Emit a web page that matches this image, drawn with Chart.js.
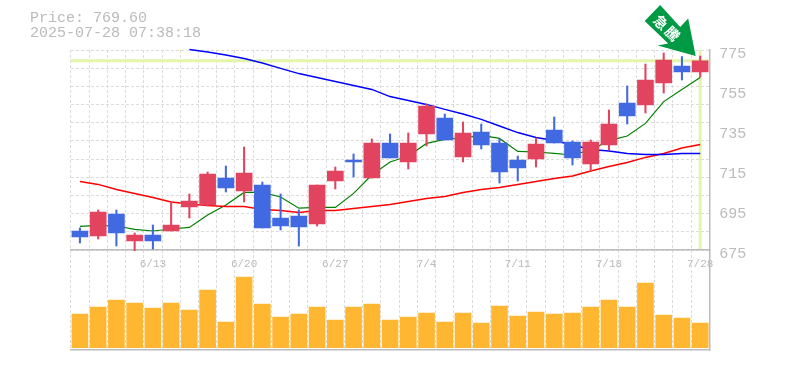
<!DOCTYPE html>
<html>
<head>
<meta charset="utf-8">
<style>
html, body { margin: 0; padding: 0; background: #fff; overflow: hidden; }
#wrap { position: relative; width: 785px; height: 370px; }
canvas { position: absolute; left: 0; }
#priceChart { top: 0; z-index: 2; }
#volChart { top: 250px; z-index: 1; }
#head { position: absolute; left: 30px; top: 11px; z-index: 3; color: #bbb; font: 15px/15px "Liberation Mono", monospace; white-space: pre; }
</style>
</head>
<body>
<div id="wrap">
  <div id="head"></div>
  <canvas id="volChart" width="785" height="102"></canvas>
  <canvas id="priceChart" width="785" height="270"></canvas>
</div>
<script src="https://cdn.jsdelivr.net/npm/chart.js@4"></script>
<script>
var lastPrice = 769.60;
var stamp = "2025-07-28 07:38:18";
var signalText = ["急", "騰"];

var dates = ["6/9","6/10","6/11","6/12","6/13","6/16","6/17","6/18","6/19","6/20","6/23","6/24","6/25","6/26","6/27","6/30","7/1","7/2","7/3","7/4","7/7","7/8","7/9","7/10","7/11","7/14","7/15","7/16","7/17","7/18","7/22","7/23","7/24","7/25","7/28"];
var shownDates = ["6/13","6/20","6/27","7/4","7/11","7/18","7/28"];
var priceTicks = [675, 695, 715, 735, 755, 775];

var opens  = [684.5,682,693,679.5,682.5,684.5,696.5,697.5,711,704.5,707.5,691,692,688,709.5,720,711,728.5,719,733,741,721.5,734,728.5,720,720.5,735,729,718,727.5,748.5,747.5,758.5,767,764];
var closes = [681.5,694,683.5,682.5,679.5,687.5,699.5,713,706,713.5,686,687,686.5,707.5,714.5,719,728.5,721,728.5,747,730,733.5,727.5,714,716,728,728.5,721,729,738,742,760,770,764,769.6];
var highs  = [686,695,695,683.5,687.5,698.7,703,714,717,726.5,709,703,695,707.5,716.5,723,730.5,733,733.5,748,743,739,738,730.5,722,731,741.5,729.5,730,745,757,768,773.5,771.7,772];
var lows   = [678.5,680.5,677,674.7,675.5,684.5,691,697,704,699,686,685,677,687,705.5,711.5,711,721,715.5,727,730,719,725.5,708.5,709.5,716.5,728.5,717.5,714.5,725,738,743.5,753.5,760,761.5];

var ma5  = [686.8,687.3,687,685.3,684.5,685.5,686.3,692.5,697.5,703.8,703.8,701.5,695.9,696.3,696.3,703.3,712.5,719,722,728.3,730.3,731,732.3,730.8,724.3,724,723.3,722.5,725,729.7,732,738.3,749.2,755.3,761.3];
var ma25 = [709.2,707.8,705.3,703.2,701.2,699,698,697.2,696.8,696.8,695.2,694.8,693.8,694.7,694.8,695.8,696.8,697.8,699.2,700.8,701.7,703.7,705.3,706.3,707.8,709.3,710.8,712,714.5,716.7,718.8,721.3,723.3,726,727.8];
var ma75 = [null,null,null,null,null,null,775.3,774,772.5,770.8,768.5,765.8,763.2,761.2,759.2,757.2,755.3,751.7,749.8,747.8,745.3,743,740.3,737,733.7,731.3,729.7,727.5,725.3,724.5,723.3,722.7,722.7,723.2,723.2];

var volumes = [33.7,40.7,47.7,44.7,39.7,44.7,37.7,57.7,25.7,70.7,43.7,30.7,33.7,40.7,27.7,40.7,43.7,27.7,30.7,34.7,25.7,34.7,24.7,41.7,31.7,35.7,33.7,34.7,40.7,47.7,40.7,64.7,32.7,29.7,24.7];

var upColor = "#e2435f";
var downColor = "#4169e1";
var axisColor = "#bbb";
var gridColor = "#dcdcdc";
var candleColors = closes.map(function (c, i) { return c >= opens[i] ? upColor : downColor; });
var bodies = closes.map(function (c, i) { return [opens[i], c]; });
var wicks = highs.map(function (h, i) { return [lows[i], h]; });

document.getElementById("head").textContent = "Price: " + lastPrice.toFixed(2) + "\n" + stamp;

// price cross and signal arrow, placed from the scales
var overlay = {
    id: "overlay",
    beforeDatasetsDraw: function (chart) {
        var ctx = chart.ctx, a = chart.chartArea;
        var px = chart.scales.x.getPixelForValue(dates.length - 1);
        var py = chart.scales.y.getPixelForValue(lastPrice);
        ctx.save();
        ctx.strokeStyle = "#e2f5a9";
        ctx.lineWidth = 3;
        ctx.beginPath();
        ctx.moveTo(a.left, py);
        ctx.lineTo(a.right, py);
        ctx.moveTo(px, a.top);
        ctx.lineTo(px, a.bottom - 1);
        ctx.stroke();
        ctx.restore();
    },
    afterDatasetsDraw: function (chart) {
        var ctx = chart.ctx;
        var tipX = chart.scales.x.getPixelForValue(dates.length - 1) - 4.5;
        var tipY = chart.scales.y.getPixelForValue(highs[highs.length - 1]);
        var shape = [[0, 0], [-38, -10.5], [-27.5, -12.5], [-51, -35], [-35.5, -51], [-15.5, -29], [-7.5, -37.5]];
        ctx.save();
        ctx.translate(tipX, tipY);
        ctx.fillStyle = "#009a44";
        ctx.beginPath();
        shape.forEach(function (p, i) { if (i) ctx.lineTo(p[0], p[1]); else ctx.moveTo(p[0], p[1]); });
        ctx.closePath();
        ctx.fill();
        ctx.fillStyle = "#fff";
        ctx.font = 'bold 14px "Noto Sans CJK JP"';
        ctx.textAlign = "center";
        ctx.textBaseline = "middle";
        ctx.translate(-29, -28);
        ctx.rotate(Math.PI / 4);
        ctx.fillText(signalText[0], -8, 0);
        ctx.fillText(signalText[1], 8, 0);
        ctx.restore();
    }
};

new Chart(document.getElementById("priceChart"), {
    type: "bar",
    plugins: [overlay],
    data: {
        labels: dates,
        datasets: [
            { type: "line", data: ma75, borderColor: "#0000ff", borderWidth: 1.5, pointRadius: 0, order: 3, clip: false, spanGaps: false },
            { type: "line", data: ma25, borderColor: "#ff0000", borderWidth: 1.5, pointRadius: 0, order: 3 },
            { type: "line", data: ma5, borderColor: "#008000", borderWidth: 1.2, pointRadius: 0, order: 3 },
            { data: wicks, backgroundColor: candleColors, barThickness: 1.4, grouped: false, order: 2, clip: false },
            { data: bodies, backgroundColor: candleColors, barThickness: 16, grouped: false, order: 1 }
        ]
    },
    options: {
        responsive: false,
        animation: false,
        layout: { padding: { left: 70.8, top: 50, right: 0, bottom: 0 } },
        plugins: { legend: { display: false }, tooltip: { enabled: false } },
        scales: {
            x: {
                offset: true,
                afterFit: function (s) { s.height = 20; },
                border: { color: axisColor, width: 1.5, dash: [3, 2] },
                grid: { color: gridColor, offset: true, drawTicks: false },
                ticks: {
                    autoSkip: false, maxRotation: 0, padding: 7, color: axisColor,
                    font: { family: "Liberation Mono", size: 11 },
                    callback: function (v) { var d = dates[v]; return shownDates.indexOf(d) >= 0 ? d : ""; }
                }
            },
            y: {
                position: "right",
                min: 675,
                max: 775,
                afterFit: function (s) { s.width = 75.7; },
                afterBuildTicks: function (s) { s.ticks = priceTicks.map(function (v) { return { value: v }; }); },
                border: { color: axisColor, width: 1.5 },
                grid: { display: false, drawTicks: false },
                ticks: { padding: 10, labelOffset: 4, color: axisColor, font: { family: "Liberation Mono", size: 15 } }
            },
            gridY: {
                position: "left",
                min: 0,
                max: 11,
                afterFit: function (s) { s.width = 0; },
                border: { display: false, dash: [3, 2] },
                grid: { color: gridColor, drawTicks: false },
                ticks: { display: false, stepSize: 1 }
            }
        }
    }
});

new Chart(document.getElementById("volChart"), {
    type: "bar",
    data: {
        labels: dates,
        datasets: [{ data: volumes, backgroundColor: "#ffb732", barThickness: 16 }]
    },
    options: {
        responsive: false,
        animation: false,
        layout: { padding: { left: 70.8, top: 0, right: 0, bottom: 0 } },
        plugins: { legend: { display: false }, tooltip: { enabled: false } },
        scales: {
            x: {
                offset: true,
                afterFit: function (s) { s.height = 2; },
                border: { color: axisColor, width: 1.5, dash: [3, 2] },
                grid: { color: gridColor, offset: true, drawTicks: false },
                ticks: { display: false }
            },
            y: {
                position: "right",
                min: -2.3,
                max: 97.7,
                afterFit: function (s) { s.width = 75.7; },
                border: { color: axisColor, width: 1.5 },
                grid: { display: false, drawTicks: false },
                ticks: { display: false }
            }
        }
    }
});
</script>
</body>
</html>
